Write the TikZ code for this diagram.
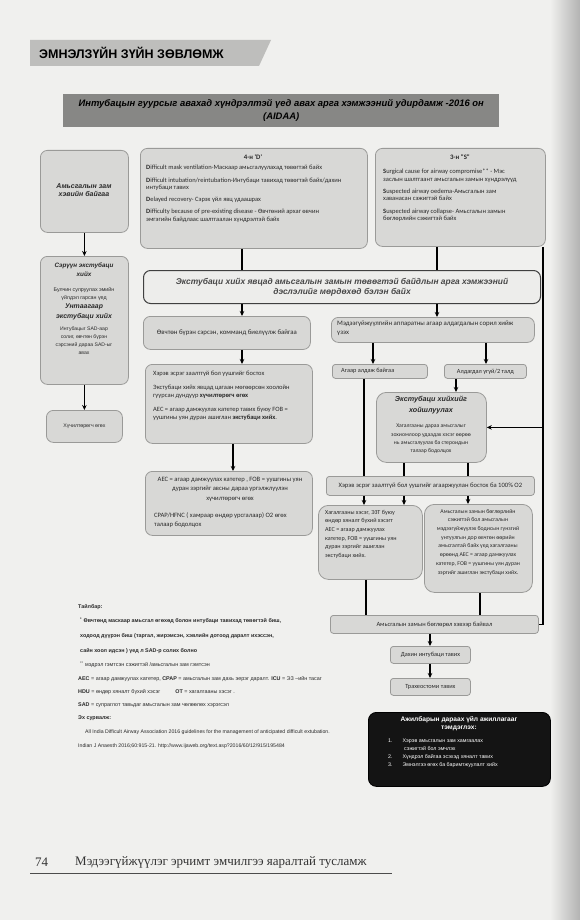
\documentclass[tikz,border=0pt]{standalone}
\usepackage{fontspec}
\setmainfont{Liberation Sans}
\newfontfamily\calib{Carlito}
\newfontfamily\serifft{Liberation Serif}
\usetikzlibrary{arrows.meta}
\definecolor{pagebg}{HTML}{F0F0EE}
\definecolor{boxfill}{HTML}{D8D8D6}
\definecolor{boxline}{HTML}{9A9A98}
\definecolor{titleband}{HTML}{878785}
\definecolor{headband}{HTML}{BEBEBC}
\definecolor{inktxt}{HTML}{2A2A2A}
\definecolor{extfill}{HTML}{EDEDEB}
\tikzset{
  box/.style={draw=boxline, fill=boxfill, rounded corners=7pt, line width=0.8pt, anchor=north west, inner sep=0pt},
  sbox/.style={box, rounded corners=3pt},
  conn/.style={line width=1.1pt, draw=black},
  arr/.style={conn, -{Stealth[length=5pt,width=4.5pt]}},
  tx/.style={inner sep=0pt, anchor=north west, align=left, text=inktxt, font=\calib\fontsize{6}{7}\selectfont},
  txc/.style={tx, anchor=north, align=center},
  bix/.style={inner sep=0pt, anchor=north, align=center, text=inktxt, font=\bfseries\itshape\fontsize{7}{8.4}\selectfont},
  lg/.style={inner sep=0pt, anchor=west, text=inktxt, font=\fontsize{5.4}{6.5}\selectfont},
}
\begin{document}
\begin{tikzpicture}[x=1pt,y=-1pt]
\useasboundingbox (0,0) rectangle (580,920);
\fill[pagebg] (0,0) rectangle (580,920);
\shade[left color=pagebg, right color=black!30] (550,0) rectangle (580,920);
% header
\fill[headband] (30,40) -- (271,40) -- (259,66) -- (30,66) -- cycle;
\node[anchor=west, inner sep=0pt, font=\bfseries\fontsize{12.5}{14}\selectfont, text=black] (head) at (39,53) {ЭМНЭЛЗҮЙН ЗҮЙН ЗӨВЛӨМЖ};
% title band
\node[fill=titleband, minimum width=436pt, minimum height=33pt, anchor=north west, inner sep=0pt] (tband) at (63,94) {};
\node[inner sep=0pt, align=center, font=\bfseries\itshape\fontsize{9.4}{13}\selectfont, text=black] (ttl) at (tband.center) {Интубацын гуурсыг авахад хүндрэлтэй үед авах арга хэмжээний удирдамж -2016 он\\(AIDAA)};

% column coordinates
\coordinate (xa) at (242,0);
\coordinate (xa2) at (233,0);
\coordinate (xb) at (437,0);
\coordinate (xb2) at (373,0);
\coordinate (xb3) at (486,0);
\coordinate (xb4) at (456,0);
\coordinate (xc1) at (364,0);
\coordinate (xc2) at (404,0);
\coordinate (xc3) at (468,0);
\coordinate (xd1) at (366,0);
\coordinate (xd2) at (480,0);
\coordinate (xr) at (543,0);
\coordinate (xe) at (430,0);

% left column
\node[box, minimum width=88pt, minimum height=82pt] (L1) at (40,150) {};
\node[bix] (L1t) at (84,183) {Амьсгалын зам\\хэвийн байгаа};
\node[box, minimum width=88pt, minimum height=128pt] (L2) at (40,256) {};
\node[bix, font=\bfseries\itshape\fontsize{6.3}{9}\selectfont] (L2a) at (84,263) {Сэрүүн экстубаци\\хийх};
\node[txc, font=\fontsize{5.3}{8}\selectfont] (L2b) at (84,287) {Булчин сулруулах эмийн\\үйлдэл гарсан үед};
\node[bix, font=\bfseries\itshape\fontsize{6.9}{9.5}\selectfont] (L2c) at (84,304) {Унтаагаар\\экстубаци хийх};
\node[txc, font=\fontsize{5.1}{8}\selectfont] (L2d) at (84,327) {Интубацыг  SAD-аар\\солиг, өвчтөн бүрэн\\сэрсэний дараа  SAD-ыг\\авах};
\node[box, minimum width=76pt, minimum height=32pt] (L3) at (46,410) {};
\node[inner sep=0pt, text=inktxt, font=\fontsize{5.2}{6}\selectfont] (L3t) at (L3.center) {Хүчилтөрөгч өгөх};
\draw[arr] (L1.south) -- (L2.north);
\draw[arr] (L2.south) -- (L3.north);

% 4-D box
\node[box, minimum width=227pt, minimum height=100pt] (D) at (140,148) {};
\node[tx, anchor=north, font=\calib\bfseries\fontsize{6.8}{7}\selectfont] (Dt) at (253,155) {4-н 'D'};
\node[tx, font=\calib\fontsize{6.5}{7.3}\selectfont] (Db) at (146,165) {\textbf{D}ifficult mask ventilation-Маскаар амьсгалуулахад төвөгтэй байх\\[5pt]
\textbf{D}ifficult intubation/reintubation-Интубаци тавихад төвөгтэй байх/дахин\\интубаци тавих\\[5pt]
\textbf{D}elayed recovery- Сэрэх үйл явц  удаашрах\\[5pt]
\textbf{D}ifficulty because of pre-existing disease - Өвчтөний архаг өвчин\\эмгэгийн байдлаас шалтгаалан хүндрэлтэй байх};

% 3-S box
\node[box, minimum width=170pt, minimum height=98pt] (S) at (375,148) {};
\node[tx, anchor=north, font=\calib\bfseries\fontsize{6.8}{7}\selectfont] (St) at (460,155) {3-н "S"};
\node[tx, font=\calib\fontsize{6.5}{7.3}\selectfont] (Sb) at (383,169) {\textbf{S}urgical cause for airway compromise** - Мэс\\заслын шалтгаант  амьсгалын  замын  хүндрэлүүд\\[5pt]
\textbf{S}uspected airway oedema-Амьсгалын зам\\хаванасан сэжигтэй байх\\[5pt]
\textbf{S}uspected airway collapse- Амьсгалын замын\\бөглөрлийн  сэжигтэй  байх};

% extubation readiness box
\node[box, fill=extfill, draw=black!75, line width=1pt, minimum width=397pt, minimum height=33pt] (E) at (143,270) {};
\node[inner sep=0pt, align=center, text=black!72, font=\bfseries\itshape\fontsize{8.4}{10.5}\selectfont] (Et) at (E.center) {Экстубаци хийх явцад амьсгалын замын төвөгтэй байдлын арга хэмжээний\\дэслэлийг мөрдөхөд бэлэн байх};
\draw[conn] (D.south -| xa) -- (E.north -| xa);
\draw[conn] (S.south -| xb) -- (E.north -| xb);

% left branch
\node[box, minimum width=167pt, minimum height=33pt] (A1) at (143,316) {};
\node[inner sep=0pt, text=inktxt, font=\calib\fontsize{6.8}{7}\selectfont] (A1t) at (A1.center) {Өвчтөн бүрэн сэрсэн, комманд биелүүлж байгаа};
\node[box, minimum width=167pt, minimum height=79pt] (A2) at (145,364) {};
\node[tx, font=\calib\fontsize{6.5}{8.5}\selectfont] (A2t) at (153,371) {Хэрэв эсрэг заалтгүй бол уушгийг бостох\\[5pt]
Экстубаци хийх явцад  цагаан мөгөөрсөн хоолойн\\гуурсан дундуур  \textbf{хүчилтөрөгч өгөх}\\[5pt]
AEC = агаар дамжуулах катетер тавих  буюу  FOB =\\уушгины уян дуран  ашиглан  \textbf{экстубаци хийх}.};
\node[box, minimum width=167pt, minimum height=64pt] (A3) at (145,471) {};
\node[txc, font=\calib\fontsize{6.6}{9.5}\selectfont] (A3a) at (230,477) {AEC = агаар дамжуулах катетер , FOB = уушгины уян\\дуран зэргийг  авсны дараа үргэлжлүүлэн\\хүчилтөрөгч өгөх};
\node[tx, font=\calib\fontsize{6.6}{9}\selectfont] (A3b) at (154,512) {CPAP/HFNC ( хамраар өндөр урсгалаар) O2 өгөх\\талаар  бодолцох};
\draw[arr] (E.south -| xa) -- (A1.north -| xa);
\draw[arr] (A1.south -| xa) -- (A2.north -| xa);
\draw[arr] (A2.south -| xa2) -- (A3.north -| xa2);

% right branch
\node[box, minimum width=203pt, minimum height=25pt] (B1) at (331,317) {};
\node[tx, font=\calib\fontsize{6.8}{9}\selectfont] (B1t) at (337,321) {Мэдээгүйжүүлгийн аппаратны  агаар алдагдалын сорил  хийж\\үзэх};
\node[sbox, minimum width=95pt, minimum height=14pt] (B2) at (332,364) {};
\node[inner sep=0pt, anchor=west, text=inktxt, font=\calib\fontsize{6.3}{7}\selectfont] (B2t) at (341,371) {Агаар алдаж байгаа};
\node[sbox, minimum width=82pt, minimum height=14pt] (B3) at (444,364) {};
\node[inner sep=0pt, text=inktxt, font=\calib\fontsize{6.3}{7}\selectfont] (B3t) at (B3.center) {Алдагдал үгүй/2 талд};
\node[box, rounded corners=10pt, minimum width=110pt, minimum height=70pt] (B4) at (376,392) {};
\node[bix, font=\bfseries\itshape\fontsize{7.2}{11}\selectfont] (B4a) at (431,396) {Экстубаци хийхийг\\хойшлуулах};
\node[txc, font=\calib\fontsize{5.7}{8.2}\selectfont] (B4b) at (431,424) {Хагалгааны дараа амьсгалыг\\зохиомлоор удаадах хэсэг өөрөө\\нь амьсгалуулах ба стероидын\\талаар бодолцох};
\node[sbox, minimum width=208pt, minimum height=19pt] (B5) at (326,476) {};
\node[inner sep=0pt, text=inktxt, font=\calib\fontsize{6.6}{7}\selectfont] (B5t) at (B5.center) {Хэрэв эсрэг заалтгүй бол уушгийг агааржуулан бостох ба 100\% O2};
\node[box, rounded corners=10pt, minimum width=104pt, minimum height=74pt] (B6) at (318,505) {};
\node[tx, font=\calib\fontsize{6.1}{8.6}\selectfont] (B6t) at (325,510) {Хагалгааны хэсэг,  ЭЗТ буюу\\өндөр хяналт бүхий хэсэгт\\AEC =  агаар дамжуулах\\катетер,  FOB = уушгины уян\\дуран зэргийг  ашиглан\\экстубаци хийх.};
\node[box, rounded corners=10pt, minimum width=108pt, minimum height=88pt] (B7) at (424,504) {};
\node[txc, font=\calib\fontsize{5.8}{8.7}\selectfont] (B7t) at (478,509) {Амьсгалын замын бөглөрлийн\\сэжигтэй бол амьсгалын\\мэдээгүйжүүлэх бодисын гүнзгий\\унтуулгын дор өвчтөн өөрийн\\амьсгалтай байх үед хагалгааны\\өрөөнд AEC = агаар дамжуулах\\катетер, FOB = уушгины уян дуран\\зэргийг  ашиглан экстубаци хийх.};
\node[sbox, minimum width=208pt, minimum height=18pt] (B8) at (330,615) {};
\node[inner sep=0pt, text=inktxt, font=\calib\fontsize{6.4}{7}\selectfont] (B8t) at (B8.center) {Амьсгалын замын бөглөрөл хэвээр байвал};
\node[sbox, minimum width=80pt, minimum height=17pt] (B9) at (390,646) {};
\node[inner sep=0pt, text=inktxt, font=\calib\fontsize{6.3}{7}\selectfont] (B9t) at (B9.center) {Дахин интубаци тавих};
\node[sbox, minimum width=80pt, minimum height=17pt] (B10) at (390,678) {};
\node[inner sep=0pt, text=inktxt, font=\calib\fontsize{6.3}{7}\selectfont] (B10t) at (B10.center) {Трахеостоми тавих};

\draw[arr] (E.south -| xb) -- (B1.north -| xb);
\draw[arr] (B1.south -| xb2) -- (B2.north -| xb2);
\draw[arr] (B1.south -| xb3) -- (B3.north -| xb3);
\draw[arr] (B3.south -| xb4) -- (B4.north -| xb4);
\draw[conn] (B2.south -| xc1) -- (B5.north -| xc1);
\draw[conn] (B4.south -| xc2) -- (B5.north -| xc2);
\draw[conn] (B4.south -| xc3) -- (B5.north -| xc3);
\draw[arr] (B5.south -| xc1) -- (B6.north -| xc1);
\draw[arr] (B5.south -| xc2) -- (B6.north -| xc2);
\draw[arr] (B5.south -| xc3) -- (B7.north -| xc3);
\draw[conn] (B6.south -| xd1) -- (B8.north -| xd1);
\draw[conn] (B7.south -| xd2) -- (B8.north -| xd2);
\draw[arr] (B8.south -| xe) -- (B9.north -| xe);
\draw[arr] (B9.south -| xe) -- (B10.north -| xe);
\draw[conn] (S.south -| xr) -- (xr |- B8.east) -- (B8.east);
\draw[arr] (xr |- B4.east) -- (B4.east);

% black box
\node[box, fill=black!92, draw=black, rounded corners=8pt, minimum width=182pt, minimum height=74pt] (K) at (368,712) {};
\node[inner sep=0pt, anchor=north, align=center, text=white, font=\bfseries\fontsize{6.6}{8.5}\selectfont] (Kt) at (459,716) {Ажилбарын дараах үйл ажиллагааг\\тэмдэглэх:};
\node[inner sep=0pt, anchor=north west, align=left, text=white, font=\fontsize{5.3}{8}\selectfont] (Kl) at (388,739) {1.\hspace*{10pt}Хэрэв амьсгалын зам хамгаалах\\\hspace*{16pt}сэжигтэй бол эмчлэх\\2.\hspace*{10pt}Хүндрэл байгаа эсэхэд хяналт тавих\\3.\hspace*{10pt}Эмнэлгээ өгөх ба баримтжуулалт хийх};

% legend
\node[lg] (lg1) at (78,607) {\textbf{Тайлбар:}};
\node[lg] (lg2) at (80,621) {\textbf{\textsuperscript{*} Өвчтөнд маскаар амьсгал өгөхөд болон интубаци тавихад төвөгтэй биш,}};
\node[lg] (lg3) at (80,636) {\textbf{ходоод дүүрэн  биш (таргал,  жирэмсэн,  хэвлийн дотоод даралт ихэссэн,}};
\node[lg] (lg4) at (80,651) {\textbf{сайн хоол идсэн ) үед л SAD-р солих болно}};
\node[lg] (lg5) at (80,665) {\textsuperscript{**} мэдрэл гэмтсэн сэжигтэй /амьсгалын зам  гэмтсэн};
\node[lg] (lg6) at (78,679) {\textbf{AEC} = агаар дамжуулах катетер,  \textbf{CPAP} = амьсгалын зам дахь эерэг даралт.   \textbf{ICU} = ЭЗ –ийн тасаг};
\node[lg] (lg7) at (78,692) {\textbf{HDU} = өндөр хяналт бүхий хэсэг \hspace{12pt} \textbf{OT} = хагалгааны хэсэг .};
\node[lg] (lg8) at (78,705) {\textbf{SAD} = супраглот тавьдаг амьсгалын зам чөлөөлөх хэрэгсэл};
\node[lg] (lg9) at (78,718) {\textbf{Эх сурвалж:}};
\node[lg, font=\fontsize{5.2}{6.5}\selectfont] (lg10) at (85,732) {All India Difficult Airway Association 2016 guidelines for the management of anticipated difficult extubation.};
\node[lg, font=\fontsize{5.2}{6.5}\selectfont] (lg11) at (78,746) {Indian J Anaesth 2016;60:915-21. http://www.ijaweb.org/text.asp?2016/60/12/915/195484};

% footer
\node[anchor=west, inner sep=0pt, font=\serifft\fontsize{13}{15}\selectfont, text=black!80] (pg) at (35,862) {74};
\node[anchor=west, inner sep=0pt, font=\serifft\fontsize{13}{15}\selectfont, text=black!80] (ft) at (75,862) {Мэдээгүйжүүлэг эрчимт эмчилгээ яаралтай тусламж};
\draw[black!70, line width=0.6pt] (30,873) -- (392,873);
\end{tikzpicture}
\end{document}
